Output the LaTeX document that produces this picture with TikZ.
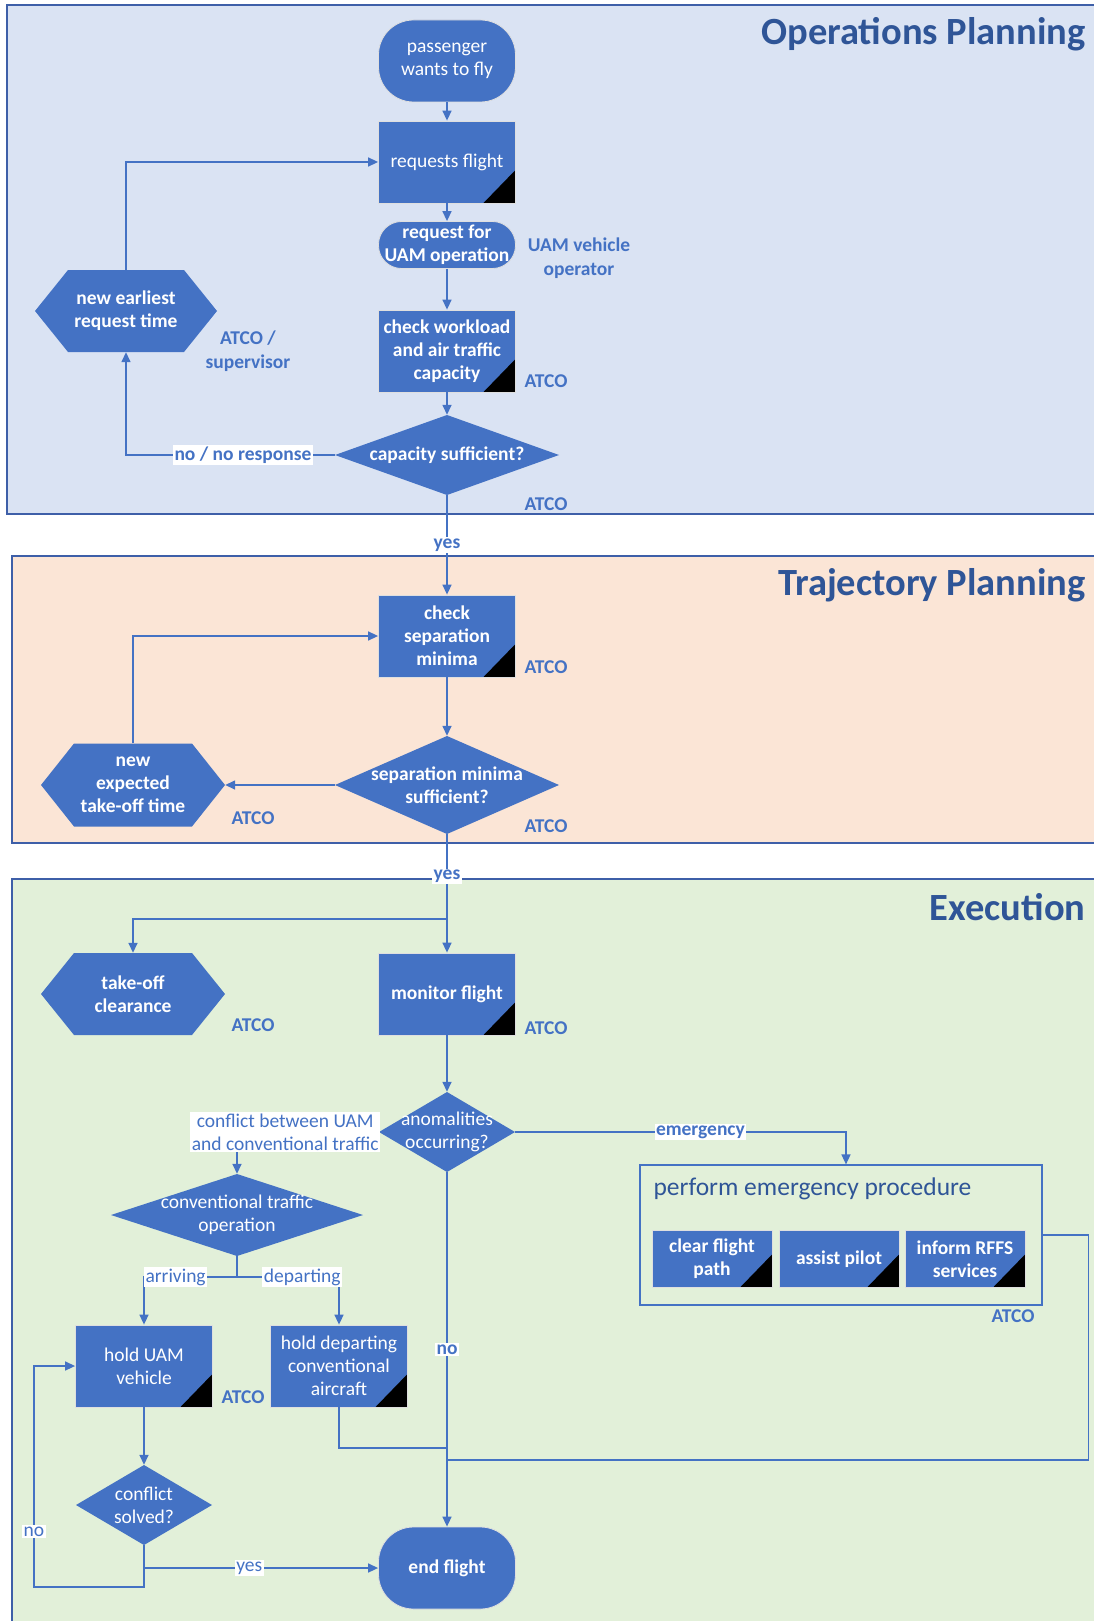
\documentclass[tikz,border=0pt]{standalone}
\usepackage{fontspec}
\setmainfont{Carlito}
\usetikzlibrary{arrows.meta}
\definecolor{nb}{HTML}{4472C4}
\definecolor{tb}{HTML}{2F5597}
\definecolor{opsbg}{HTML}{DAE3F3}
\definecolor{trbg}{HTML}{FBE5D6}
\definecolor{exbg}{HTML}{E2F0D9}
\definecolor{bandline}{HTML}{3E5FA8}
\begin{document}
\begin{tikzpicture}[x=1pt,y=-1pt,
  base/.style={text=white, align=center, inner sep=0pt, font=\fontsize{19.5}{23}\selectfont},
  bold/.style={font=\fontsize{19.5}{23}\selectfont\bfseries},
  task/.style={base, rectangle, fill=nb, draw=white!75!gray, line width=0.8pt,
    minimum width=137pt, minimum height=82pt,
    path picture={\fill[black] (path picture bounding box.south east) -- ++(-32pt,0pt)
      -- ([yshift=33pt]path picture bounding box.south east) -- cycle;}},
  term/.style={base, rectangle, rounded corners=35pt, fill=nb, draw=white!75!gray, line width=0.8pt,
    minimum width=137pt, minimum height=82pt},
  hexa/.style={base, rectangle, minimum width=182pt, minimum height=82pt,
    path picture={\fill[nb] ([xshift=33pt]path picture bounding box.north west)
      -- ([xshift=-33pt]path picture bounding box.north east)
      -- (path picture bounding box.east)
      -- ([xshift=-33pt]path picture bounding box.south east)
      -- ([xshift=33pt]path picture bounding box.south west)
      -- (path picture bounding box.west) -- cycle;}},
  dia/.style={base, rectangle,
    path picture={\fill[nb] (path picture bounding box.north) -- (path picture bounding box.east)
      -- (path picture bounding box.south) -- (path picture bounding box.west) -- cycle;}},
  lab/.style={text=nb, align=center, font=\fontsize{19.5}{23.5}\selectfont\bfseries},
  wlab/.style={fill=white, text=nb, inner sep=1.5pt, font=\fontsize{19.5}{23}\selectfont},
  wlabb/.style={wlab, font=\fontsize{19.5}{23}\selectfont\bfseries},
  ln/.style={draw=nb, line width=1.5pt},
  arr/.style={ln, -{Triangle[length=10pt,width=9pt]}},
  band/.style={draw=bandline, line width=1.2pt},
  title/.style={text=tb, anchor=east, font=\fontsize{38.5}{42}\selectfont\bfseries}
]
\useasboundingbox (0,0) rectangle (1094,1621);
% bands
\path[band, fill=opsbg] (7,5) rectangle (1110,514);
\path[band, fill=trbg] (12,556) rectangle (1110,843);
\path[band, fill=exbg] (12,879) rectangle (1110,1640);
\node[title] (t1) at (1089,34) {Operations Planning};
\node[title] (t2) at (1089,585) {Trajectory Planning};
\node[title] (t3) at (1089,907) {Execution};

% operations planning
\node[term] (pax) at (447,61) {passenger\\wants to fly};
\node[task] (req) at (447,162) {requests flight};
\node[term, bold, rounded corners=23pt, minimum height=47pt] (uam) at (447,245) {request for\\UAM operation};
\node[task, bold] (chk) at (447,351) {check workload\\and air traffic\\capacity};
\node[dia, bold, minimum width=224pt, minimum height=80pt] (cap) at (447,455) {capacity sufficient?};
\node[hexa, bold] (newreq) at (126,311) {new earliest\\request time};
\node[lab] (l1) at (579,258) {UAM vehicle\\operator};
\node[lab] (l2) at (248,351) {ATCO /\\supervisor};
\node[lab] (l3) at (546,381) {ATCO};
\node[lab] (l4) at (546,504) {ATCO};

% trajectory planning
\node[task, bold] (sep) at (447,636) {check\\separation\\minima};
\node[dia, bold, minimum width=224pt, minimum height=98pt] (sepok) at (447,785) {separation minima\\sufficient?};
\node[hexa, bold, minimum width=184pt, minimum height=83pt] (newexp) at (133,785) {new\\expected\\take-off time};
\node[lab] (l5) at (546,667) {ATCO};
\node[lab] (l6) at (546,826) {ATCO};
\node[lab] (l7) at (253,818) {ATCO};

% execution
\node[hexa, bold, minimum width=184pt] (toc) at (133,994) {take-off\\clearance};
\node[task, bold] (mon) at (447,994) {monitor flight};
\node[dia, minimum width=136pt, minimum height=80pt] (anom) at (447,1132) {anomalities\\occurring?};
\node[dia, minimum width=252pt, minimum height=82pt] (conv) at (237,1215) {conventional traffic\\operation};
\node[task] (holduam) at (144,1366) {hold UAM\\vehicle};
\node[task] (holddep) at (339,1366) {hold departing\\conventional\\aircraft};
\node[dia, minimum width=136pt, minimum height=80pt] (solved) at (144,1505) {conflict\\solved?};
\node[term, bold] (endf) at (447,1568) {end flight};
\node[draw=nb, line width=1.2pt, minimum width=402pt, minimum height=140pt, inner sep=0pt] (emg) at (841,1235) {};
\node[anchor=west, text=tb, font=\fontsize{25.5}{30}\selectfont] (emgt) at (650,1189) {perform emergency procedure};
\node[task, bold, minimum width=120pt, minimum height=57pt] (e1) at (712,1259) {clear flight\\path};
\node[task, bold, minimum width=120pt, minimum height=57pt] (e2) at (839,1259) {assist pilot};
\node[task, bold, minimum width=120pt, minimum height=57pt] (e3) at (965,1259) {inform RFFS\\services};
\node[lab] (l8) at (253,1025) {ATCO};
\node[lab] (l9) at (546,1028) {ATCO};
\node[lab] (l10) at (243,1397) {ATCO};
\node[lab] (l11) at (1013,1316) {ATCO};

% connectors: operations planning
\draw[arr] (pax) -- (req);
\draw[arr] (req) -- (uam);
\draw[arr] (uam) -- (chk);
\draw[arr] (chk) -- (cap);
\draw[arr] (cap.west) -| node[wlabb, pos=0.22] {no / no response} (newreq.south);
\draw[arr] (newreq.north) |- (req.west);
\draw[arr] (cap.south) -- node[wlabb, pos=0.5] {yes} (sep.north);
% trajectory
\draw[arr] (sep) -- (sepok);
\draw[arr] (sepok.west) -- (newexp.east);
\draw[arr] (newexp.north) |- (sep.west);
\coordinate (br1) at (447,919);
\draw[ln] (sepok.south) -- node[wlabb, pos=0.5] {yes} (br1);
\draw[arr] (br1) -- (mon.north);
\draw[arr] (br1) -| (toc.north);
% execution
\draw[arr] (mon) -- (anom);
\draw[arr] (anom.west) -| node[wlab, pos=0.33, align=center] {conflict between UAM\\and conventional traffic} (conv.north);
\draw[arr] (anom.east) -| node[wlabb, pos=0.28] {emergency} ([xshift=5pt]emg.north);
\draw[arr] (anom.south) -- node[wlabb, pos=0.5] {no} (endf.north);
\coordinate (br2) at (237,1277);
\draw[ln] (conv.south) -- (br2);
\draw[arr] (br2) -| node[wlab, pos=0.33] {arriving} (holduam.north);
\draw[arr] (br2) -| node[wlab, pos=0.32] {departing} (holddep.north);
\draw[arr] (holduam) -- (solved);
\coordinate (j1) at (447,1448);
\draw[ln] (holddep.south) |- (j1);
\coordinate (j2) at (447,1460);
\draw[ln] (emg.east) -- ++(46,0) |- (j2);
\coordinate (nob) at (34,1587);
\draw[arr] (solved.south) |- (nob) -- node[wlab, pos=0.25] {no} (nob |- holduam.west) -- (holduam.west);
\draw[arr] (solved.south |- endf.west) -- node[wlab, pos=0.45] {yes} (endf.west);
\end{tikzpicture}
\end{document}
